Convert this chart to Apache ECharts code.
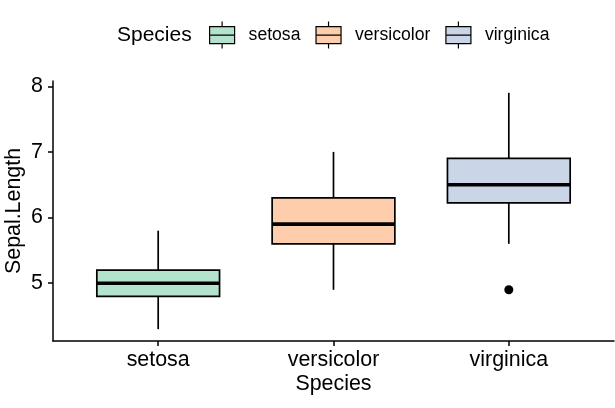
<!DOCTYPE html>
<html>
<head>
<meta charset="utf-8">
<script src="https://cdn.jsdelivr.net/npm/echarts@6/dist/echarts.min.js"></script>
<style>html,body{margin:0;padding:0;background:#fff}#c{width:615px;height:408px}</style>
</head>
<body>
<div id="c"></div>
<script>
var categories = ['setosa', 'versicolor', 'virginica'];
// [min, Q1, median, Q3, max] of whiskers/box
var setosaBox = [4.3, 4.8, 5.0, 5.2, 5.8];
var versicolorBox = [4.9, 5.6, 5.9, 6.3, 7.0];
var virginicaBox = [5.6, 6.225, 6.5, 6.9, 7.9];
var outlierCategory = ['virginica'];
var outlierValues = [4.9];
var yTicks = [5, 6, 7, 8];
var colors = ['#B3E2CD', '#FDCDAC', '#CBD5E8'];

var boxes = [setosaBox, versicolorBox, virginicaBox];
var FONT = '"Liberation Sans", Arial, sans-serif';
var BOX_W = 0.7;

function renderBox(params, api) {
  var x = api.value(0);
  var w = api.size([BOX_W, 0])[0];
  var pMin = api.coord([x, api.value(1)]);
  var pQ1 = api.coord([x, api.value(2)]);
  var pMed = api.coord([x, api.value(3)]);
  var pQ3 = api.coord([x, api.value(4)]);
  var pMax = api.coord([x, api.value(5)]);
  var col = api.visual('color');
  return {
    type: 'group',
    children: [
      {type: 'line', shape: {x1: pMin[0], y1: pMin[1], x2: pQ1[0], y2: pQ1[1]}, style: {stroke: '#000', lineWidth: 1.7}},
      {type: 'line', shape: {x1: pQ3[0], y1: pQ3[1], x2: pMax[0], y2: pMax[1]}, style: {stroke: '#000', lineWidth: 1.7}},
      {type: 'rect', shape: {x: pQ3[0] - w / 2, y: pQ3[1], width: w, height: pQ1[1] - pQ3[1]}, style: {fill: col, stroke: '#000', lineWidth: 1.7}},
      {type: 'line', shape: {x1: pMed[0] - w / 2, y1: pMed[1], x2: pMed[0] + w / 2, y2: pMed[1]}, style: {stroke: '#000', lineWidth: 3.6}}
    ]
  };
}

var series = categories.map(function (name, i) {
  return {
    name: name,
    type: 'custom',
    renderItem: renderBox,
    itemStyle: {color: colors[i]},
    encode: {x: 0, y: [1, 2, 3, 4, 5]},
    data: [[i + 1].concat(boxes[i])],
    z: 2
  };
});
series.push({
  name: 'outliers',
  type: 'scatter',
  symbolSize: 9,
  itemStyle: {color: '#000', opacity: 1},
  data: outlierValues.map(function (v, k) { return [categories.indexOf(outlierCategory[k]) + 1, v]; }),
  z: 3
});

var legendIcon = 'path://M0,5 L25,5 L25,22 L0,22 Z M0,13.5 L25,13.5 M12.5,0 L12.5,5 M12.5,22 L12.5,27';

var chart = echarts.init(document.getElementById('c'), null, {renderer: 'canvas'});
chart.setOption({
  animation: false,
  textStyle: {fontFamily: FONT},
  title: {
    text: 'Species', left: 117, top: 25, padding: 0,
    textStyle: {fontFamily: FONT, fontSize: 21, fontWeight: 'normal', color: '#000'}
  },
  legend: {
    left: 209, top: 21, padding: 0,
    itemWidth: 25, itemHeight: 27, itemGap: 15,
    data: categories.map(function (c) { return {name: c, icon: legendIcon}; }),
    itemStyle: {borderColor: '#000', borderWidth: 1.2},
    textStyle: {fontFamily: FONT, fontSize: 17.6, color: '#000', padding: [0, 0, 0, 9]}
  },
  grid: {left: 53, right: 1, top: 81, bottom: 67, containLabel: false, outerBoundsMode: 'none'},
  xAxis: {
    type: 'value', min: 0.4, max: 3.6,
    name: 'Species', nameLocation: 'middle', nameGap: 33, nameMoveOverlap: false,
    nameTextStyle: {fontFamily: FONT, fontSize: 21.4, color: '#000'},
    axisLine: {show: true, onZero: false, lineStyle: {color: '#000', width: 1.5}},
    axisTick: {show: true, length: 5, customValues: [1, 2, 3], lineStyle: {color: '#000', width: 1.5}},
    axisLabel: {
      customValues: [1, 2, 3], margin: 9, color: '#000', fontFamily: FONT, fontSize: 21.4,
      formatter: function (v) { return categories[Math.round(v) - 1]; }
    },
    splitLine: {show: false}
  },
  yAxis: {
    type: 'value', min: 4.12, max: 8.08,
    name: 'Sepal.Length', nameLocation: 'middle', nameGap: 28, nameRotate: 90, nameMoveOverlap: false,
    nameTextStyle: {fontFamily: FONT, fontSize: 21.4, color: '#000'},
    axisLine: {show: true, onZero: false, lineStyle: {color: '#000', width: 1.5}},
    axisTick: {show: true, length: 5, customValues: yTicks, lineStyle: {color: '#000', width: 1.5}},
    axisLabel: {customValues: yTicks, margin: 10, color: '#000', fontFamily: FONT, fontSize: 21.4},
    splitLine: {show: false}
  },
  series: series
});
</script>
</body>
</html>
